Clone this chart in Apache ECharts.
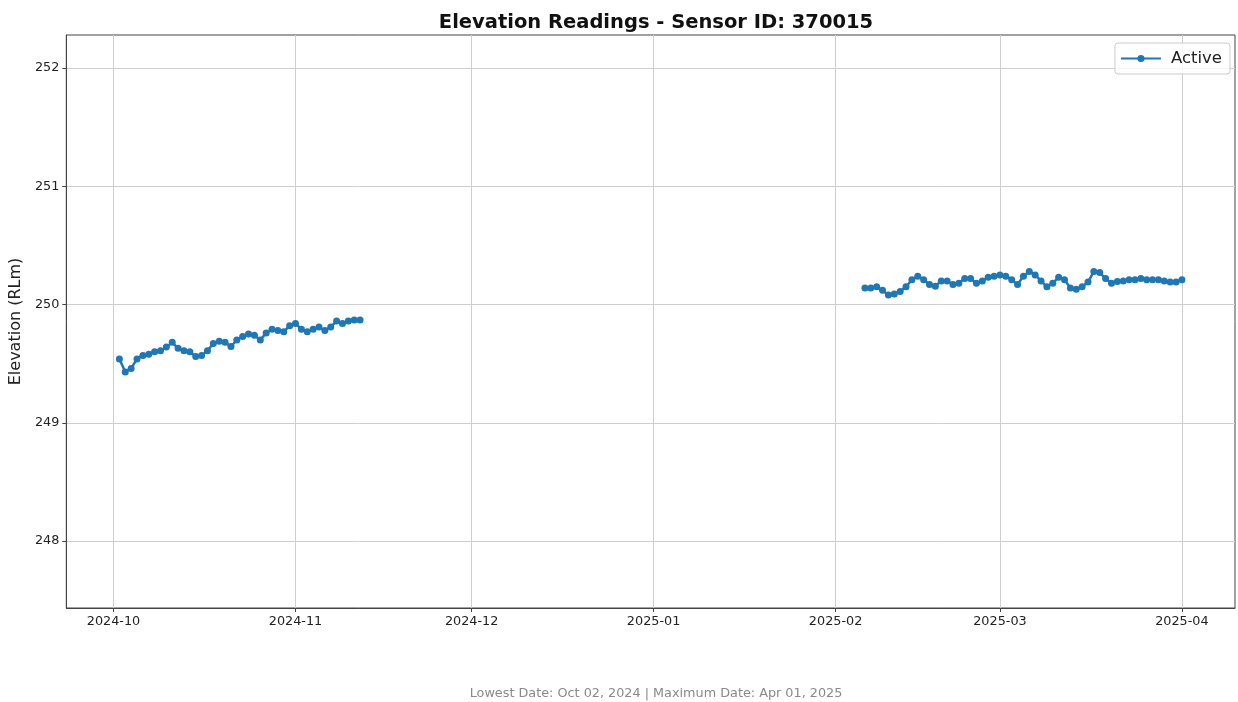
<!DOCTYPE html>
<html>
<head>
<meta charset="utf-8">
<script src="https://cdn.jsdelivr.net/npm/echarts@6/dist/echarts.min.js"></script>
<style>
  html, body { margin: 0; padding: 0; background: #fff; }
  #chart { width: 1238px; height: 702px; }
</style>
</head>
<body>
<div id="chart"></div>
<script>
// ---- Data ----
const seriesName = 'Active';
const titleText = 'Elevation Readings - Sensor ID: 370015';
const yAxisName = 'Elevation (RLm)';
const footerText = 'Lowest Date: Oct 02, 2024 | Maximum Date: Apr 01, 2025';

const seg1Dates = [
  '2024-10-02','2024-10-03','2024-10-04','2024-10-05','2024-10-06','2024-10-07','2024-10-08',
  '2024-10-09','2024-10-10','2024-10-11','2024-10-12','2024-10-13','2024-10-14','2024-10-15',
  '2024-10-16','2024-10-17','2024-10-18','2024-10-19','2024-10-20','2024-10-21','2024-10-22',
  '2024-10-23','2024-10-24','2024-10-25','2024-10-26','2024-10-27','2024-10-28','2024-10-29',
  '2024-10-30','2024-10-31','2024-11-01','2024-11-02','2024-11-03','2024-11-04','2024-11-05',
  '2024-11-06','2024-11-07','2024-11-08','2024-11-09','2024-11-10','2024-11-11','2024-11-12'
];
const seg1Values = [
  249.54, 249.43, 249.46, 249.54, 249.57, 249.58, 249.60,
  249.61, 249.64, 249.68, 249.63, 249.61, 249.60, 249.56,
  249.57, 249.61, 249.67, 249.69, 249.68, 249.645, 249.70,
  249.73, 249.75, 249.74, 249.70, 249.76, 249.79, 249.78,
  249.77, 249.82, 249.84, 249.79, 249.77, 249.79, 249.81,
  249.78, 249.81, 249.86, 249.84, 249.86, 249.87, 249.87
];

const gapDate = '2024-12-25';

const seg2Dates = [
  '2025-02-06','2025-02-07','2025-02-08','2025-02-09','2025-02-10','2025-02-11',
  '2025-02-12','2025-02-13','2025-02-14','2025-02-15','2025-02-16','2025-02-17','2025-02-18',
  '2025-02-19','2025-02-20','2025-02-21','2025-02-22','2025-02-23','2025-02-24','2025-02-25',
  '2025-02-26','2025-02-27','2025-02-28','2025-03-01','2025-03-02','2025-03-03','2025-03-04',
  '2025-03-05','2025-03-06','2025-03-07','2025-03-08','2025-03-09','2025-03-10','2025-03-11',
  '2025-03-12','2025-03-13','2025-03-14','2025-03-15','2025-03-16','2025-03-17','2025-03-18',
  '2025-03-19','2025-03-20','2025-03-21','2025-03-22','2025-03-23','2025-03-24','2025-03-25',
  '2025-03-26','2025-03-27','2025-03-28','2025-03-29','2025-03-30','2025-03-31','2025-04-01'
];
const seg2Values = [
  250.14, 250.14, 250.15, 250.12, 250.08, 250.09,
  250.11, 250.15, 250.21, 250.24, 250.21, 250.17, 250.155,
  250.20, 250.20, 250.17, 250.18, 250.22, 250.22, 250.18,
  250.20, 250.23, 250.24, 250.25, 250.24, 250.21, 250.17,
  250.24, 250.28, 250.25, 250.20, 250.15, 250.18, 250.23,
  250.21, 250.14, 250.13, 250.15, 250.19, 250.28, 250.27,
  250.22, 250.18, 250.195, 250.20, 250.21, 250.21, 250.22,
  250.21, 250.21, 250.21, 250.20, 250.19, 250.19, 250.21
];

const xTickDates = ['2024-10-01','2024-11-01','2024-12-01','2025-01-01','2025-02-01','2025-03-01','2025-04-01'];
const yTickValues = [248, 249, 250, 251, 252];
const yRange = [247.434, 252.279];
const xRange = ['2024-09-22T23:00:00', '2025-04-10T01:00:00'];

// ---- Build ----
function toTs(s) {
  if (s.length === 10) {
    const p = s.split('-').map(Number);
    return new Date(p[0], p[1] - 1, p[2]).getTime();
  }
  return new Date(s).getTime();
}
const data = [];
seg1Dates.forEach((d, i) => data.push([toTs(d), seg1Values[i]]));
data.push([toTs(gapDate), '-']);
seg2Dates.forEach((d, i) => data.push([toTs(d), seg2Values[i]]));

const FONT = 'DejaVu Sans';
const chart = echarts.init(document.getElementById('chart'), null, { renderer: 'canvas' });
chart.setOption({
  animation: false,
  backgroundColor: '#ffffff',
  textStyle: { fontFamily: FONT },
  title: [{
    text: titleText,
    left: 651, top: 8, textAlign: 'center',
    textStyle: { fontFamily: FONT, fontSize: 19.5, fontWeight: 'bold', color: '#111' }
  }, {
    text: footerText,
    left: 651, top: 682, textAlign: 'center',
    textStyle: { fontFamily: FONT, fontSize: 12.8, fontWeight: 'normal', color: '#8a8a8a' }
  }],
  legend: {
    right: 8, top: 43,
    data: [seriesName],
    itemWidth: 40, itemHeight: 9,
    itemGap: 10,
    padding: [7, 8, 7, 5],
    borderColor: '#cccccc', borderWidth: 1, borderRadius: 3,
    backgroundColor: 'rgba(255,255,255,0.8)',
    textStyle: { fontFamily: FONT, fontSize: 16.5, color: '#222', padding: [0, 0, 0, 5] }
  },
  grid: {
    left: 66, right: 3, top: 35, bottom: 94,
    show: true, borderColor: '#444', borderWidth: 1, backgroundColor: 'transparent'
  },
  xAxis: {
    type: 'value',
    min: toTs(xRange[0]),
    max: toTs(xRange[1]),
    axisLine: { show: true, lineStyle: { color: '#444', width: 1 } },
    axisTick: { show: true, length: 4, lineStyle: { color: '#444' }, customValues: xTickDates.map(toTs) },
    axisLabel: {
      customValues: xTickDates.map(toTs),
      fontFamily: FONT, fontSize: 12.8, color: '#222', margin: 7,
      formatter: function (v) {
        const d = new Date(v);
        const m = d.getMonth() + 1;
        return d.getFullYear() + '-' + (m < 10 ? '0' + m : m);
      }
    },
    splitLine: { show: true, lineStyle: { color: '#cfcfcf', width: 1 } }
  },
  yAxis: {
    type: 'value',
    min: yRange[0], max: yRange[1],
    name: yAxisName,
    nameLocation: 'middle',
    nameGap: 40,
    nameTextStyle: { fontFamily: FONT, fontSize: 16, color: '#222' },
    axisLine: { show: true, lineStyle: { color: '#444', width: 1 } },
    axisTick: { show: true, length: 4, lineStyle: { color: '#444' }, customValues: yTickValues },
    axisLabel: {
      customValues: yTickValues,
      fontFamily: FONT, fontSize: 12.8, color: '#222', margin: 7
    },
    splitLine: { show: true, lineStyle: { color: '#cfcfcf', width: 1 } }
  },
  series: [{
    name: seriesName,
    type: 'line',
    data: data,
    connectNulls: false,
    showSymbol: true,
    symbol: 'circle',
    symbolSize: 7,
    itemStyle: { color: '#1f77b4' },
    lineStyle: { color: '#1f77b4', width: 2.5 }
  }]
});
</script>
</body>
</html>
